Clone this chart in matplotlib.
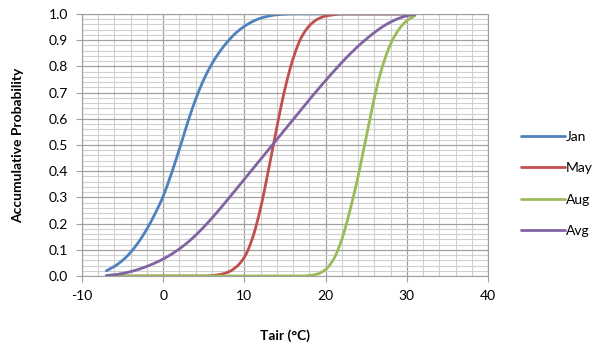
import numpy as np
from matplotlib import pyplot as plt
from matplotlib.ticker import MultipleLocator

plt.rcParams['font.family'] = ['Lato', 'DejaVu Sans']
plt.rcParams['axes.unicode_minus'] = False

# air temperature (deg C)
tair = list(range(-7, 32))

jan = [0.02, 0.037, 0.06, 0.091, 0.131, 0.18, 0.238, 0.305, 0.39, 0.485,
       0.585, 0.675, 0.75, 0.81, 0.858, 0.897, 0.929, 0.953, 0.971, 0.984,
       0.992, 0.997, 0.999, 1.0, 1.0, 1.0, 1.0, 1.0, 1.0, 1.0,
       1.0, 1.0, 1.0, 1.0, 1.0, 1.0, 1.0, 1.0, 1.0]
may = [0.0, 0.0, 0.0, 0.0, 0.0, 0.0, 0.0, 0.0, 0.0, 0.0,
       0.0, 0.0, 0.0, 0.002, 0.006, 0.015, 0.035, 0.072, 0.145, 0.26,
       0.41, 0.57, 0.715, 0.83, 0.91, 0.955, 0.98, 0.992, 0.997, 1.0,
       1.0, 1.0, 1.0, 1.0, 1.0, 1.0, 1.0, 1.0, 1.0]
aug = [0.0, 0.0, 0.0, 0.0, 0.0, 0.0, 0.0, 0.0, 0.0, 0.0,
       0.0, 0.0, 0.0, 0.0, 0.0, 0.0, 0.0, 0.0, 0.0, 0.0,
       0.0, 0.0, 0.0, 0.0, 0.0, 0.002, 0.008, 0.025, 0.065, 0.14,
       0.25, 0.38, 0.53, 0.68, 0.80, 0.885, 0.94, 0.974, 0.993]
avg = [0.002, 0.005, 0.01, 0.017, 0.026, 0.037, 0.05, 0.065, 0.083, 0.104,
       0.128, 0.156, 0.187, 0.221, 0.257, 0.294, 0.332, 0.37, 0.408, 0.446,
       0.484, 0.522, 0.56, 0.598, 0.636, 0.673, 0.71, 0.746, 0.781, 0.815,
       0.847, 0.877, 0.904, 0.929, 0.951, 0.969, 0.983, 0.993, 0.998]

series = [('Jan', jan, '#4F81BD'), ('May', may, '#C0504D'),
          ('Aug', aug, '#9BBB59'), ('Avg', avg, '#8064A2')]


def pchip(x, y, xs):
    # monotone cubic, keeps the smoothed curve from overshooting (like Excel's smoothing)
    x = np.asarray(x, float)
    y = np.asarray(y, float)
    h = np.diff(x)
    d = np.diff(y) / h
    m = np.zeros_like(y)
    for k in range(1, len(y) - 1):
        if d[k - 1] * d[k] > 0:
            w1 = 2 * h[k] + h[k - 1]
            w2 = h[k] + 2 * h[k - 1]
            m[k] = (w1 + w2) / (w1 / d[k - 1] + w2 / d[k])
    m[0] = d[0]
    m[-1] = d[-1]
    i = np.clip(np.searchsorted(x, xs) - 1, 0, len(x) - 2)
    t = (xs - x[i]) / h[i]
    h00 = 2 * t**3 - 3 * t**2 + 1
    h10 = t**3 - 2 * t**2 + t
    h01 = -2 * t**3 + 3 * t**2
    h11 = t**3 - t**2
    return h00 * y[i] + h10 * h[i] * m[i] + h01 * y[i + 1] + h11 * h[i] * m[i + 1]


fig = plt.figure(figsize=(6, 3.49), dpi=100)
ax = fig.add_axes([0.1367, 0.209, 0.6766, 0.751])

xs = np.linspace(tair[0], tair[-1], 400)
for name, vals, col in series:
    ax.plot(xs, pchip(tair, vals, xs), color=col, lw=2.0, label=name,
            solid_capstyle='round')

ax.set_xlim(-10, 40)
ax.set_ylim(0, 1)
ax.xaxis.set_major_locator(MultipleLocator(10))
ax.xaxis.set_minor_locator(MultipleLocator(2))
ax.yaxis.set_major_locator(MultipleLocator(0.1))
ax.yaxis.set_minor_locator(MultipleLocator(0.02))
ax.yaxis.set_major_formatter(plt.FormatStrFormatter('%.1f'))
ax.grid(which='major', color='#a0a0a0', lw=0.9, ls='-')
ax.grid(which='minor', color='#d0d0d0', lw=0.8, ls='-')
ax.set_axisbelow(True)
for s in ax.spines.values():
    s.set_color('#a0a0a0')
ax.tick_params(which='major', length=4, color='#a0a0a0', labelsize=10, pad=6)
ax.tick_params(which='minor', length=0)

ax.set_xlabel('Tair (°C)', fontsize=10, fontweight='bold', labelpad=20)
ax.set_ylabel('Accumulative Probability', fontsize=10, fontweight='bold', labelpad=18)

ax.legend(loc='center left', bbox_to_anchor=(1.05, 0.352), frameon=False,
          fontsize=10, handlelength=3.2, handletextpad=0.05, labelspacing=1.4)

fig.savefig('out.png', dpi=100)
